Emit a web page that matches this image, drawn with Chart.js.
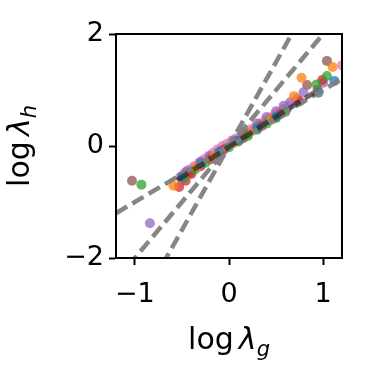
<!DOCTYPE html>
<html>
<head>
<meta charset="utf-8">
<script src="https://cdn.jsdelivr.net/npm/chart.js@4"></script>
<style>
  html, body { margin: 0; padding: 0; background: #fff; }
  #wrap { width: 366px; height: 384px; }
</style>
</head>
<body>
<div id="wrap"><canvas id="chart" width="366" height="384"></canvas></div>
<script>
/* ============================================================
   DATA
============================================================ */
const xTicks = [-1, 0, 1];
const yTicks = [-2, 0, 2];

// reference dashed lines: y = slope * x
const refSlopes = [1, 2, 3];
const fitLineX = [-0.55, 0.9];
const fitLineY = [-0.61, 0.95];

const seriesColors = ["#1f77b4", "#ff7f0e", "#2ca02c", "#d62728", "#9467bd", "#8c564b", "#e377c2"];

const blueX   = [-0.5, -0.3, -0.1, 0.1, 0.3, 0.5, 0.95, 1.12];
const blueY   = [-0.54, -0.32, -0.1, 0.1, 0.32, 0.52, 0.95, 1.16];
const orangeX = [-0.59, -0.35, -0.15, 0.05, 0.25, 0.45, 0.69, 0.77, 1.10];
const orangeY = [-0.71, -0.38, -0.16, 0.05, 0.27, 0.48, 0.89, 1.22, 1.41];
const greenX  = [-0.93, -0.48, -0.36, -0.25, -0.12, 0, 0.1, 0.2, 0.3, 0.4, 0.5, 0.6, 0.93, 1.04];
const greenY  = [-0.69, -0.57, -0.42, -0.3, -0.16, -0.02, 0.08, 0.18, 0.29, 0.4, 0.5, 0.61, 1.10, 1.25];
const redX    = [-0.53, -0.46, -0.4, -0.3, -0.2, -0.05, 0.15, 0.35, 0.55, 0.75, 0.94, 0.99];
const redY    = [-0.73, -0.62, -0.5, -0.36, -0.24, -0.06, 0.14, 0.36, 0.57, 0.8, 1.0, 1.18];
const purpleX = [-0.84, -0.45, -0.3, -0.2, 0.05, 0.3, 0.4, 0.5, 0.58, 0.65, 0.72, 0.79, 1.0];
const purpleY = [-1.38, -0.45, -0.28, -0.18, 0.1, 0.4, 0.52, 0.62, 0.72, 0.78, 0.84, 0.96, 1.13];
const brownX  = [-1.03, -0.42, -0.1, 0.2, 0.45, 0.83, 1.04];
const brownY  = [-0.62, -0.48, -0.12, 0.22, 0.47, 1.09, 1.52];
const pinkX   = [-0.52, -0.47, -0.42, -0.37, -0.32, -0.27, -0.22, -0.17, -0.12, -0.07, -0.02, 0.03, 0.08,
                 0.13, 0.18, 0.23, 0.28, 0.33, 0.38, 0.43, 0.48, 0.53, 0.58, 0.63, 1.2];
const pinkY   = [-0.56, -0.48, -0.42, -0.36, -0.3, -0.24, -0.18, -0.12, -0.06, 0.0, 0.04, 0.1, 0.14,
                 0.2, 0.24, 0.3, 0.34, 0.4, 0.45, 0.5, 0.55, 0.6, 0.66, 0.72, 1.44];

const seriesX = [blueX, orangeX, greenX, redX, purpleX, brownX, pinkX];
const seriesY = [blueY, orangeY, greenY, redY, purpleY, brownY, pinkY];

const X_MIN = -1.2, X_MAX = 1.2, Y_MIN = -2, Y_MAX = 2;
const FONT = "'DejaVu Sans', sans-serif";

/* ============================================================
   DATASETS
============================================================ */
function pts(xs, ys) { return xs.map((x, i) => ({ x: x, y: ys[i] })); }

function hexAlpha(hex, a) {
    const n = parseInt(hex.slice(1), 16);
    return `rgba(${(n >> 16) & 255}, ${(n >> 8) & 255}, ${n & 255}, ${a})`;
}

const datasets = [];

seriesX.forEach((xs, i) => {
    datasets.push({
        type: "scatter",
        data: pts(xs, seriesY[i]),
        backgroundColor: hexAlpha(seriesColors[i], 0.75),
        borderWidth: 0,
        pointRadius: 5,
        order: 2
    });
});

refSlopes.forEach(s => {
    datasets.push({
        type: "line",
        data: [{ x: X_MIN, y: s * X_MIN }, { x: X_MAX, y: s * X_MAX }],
        borderColor: "rgba(128,128,128,0.95)",
        borderWidth: 4.5,
        borderDash: [13, 6],
        pointRadius: 0,
        fill: false,
        order: 1
    });
});

datasets.push({
    type: "line",
    data: pts(fitLineX, fitLineY),
    borderColor: "rgba(30,30,30,0.65)",
    borderWidth: 5,
    borderDash: [13, 6],
    pointRadius: 0,
    fill: false,
    order: 0
});

/* ============================================================
   PLUGINS — frame and math axis titles
============================================================ */
const framePlugin = {
    id: "frame",
    afterDraw(chart) {
        const { ctx, chartArea: a } = chart;
        ctx.save();
        ctx.strokeStyle = "#000";
        ctx.lineWidth = 2;
        ctx.strokeRect(a.left, a.top, a.right - a.left, a.bottom - a.top);
        ctx.restore();
    }
};

function measureMath(ctx, sub, size) {
    ctx.font = `${size}px ${FONT}`;
    const w1 = ctx.measureText("log").width;
    const gap = size * 0.17;
    ctx.font = `oblique ${size}px ${FONT}`;
    const w2 = ctx.measureText("λ").width;
    ctx.font = `oblique ${size * 0.7}px ${FONT}`;
    const w3 = ctx.measureText(sub).width;
    return { w1, gap, w2, w3, total: w1 + gap + w2 + w3 };
}

function paintMathLabel(ctx, sub, size, cx, baseline) {
    const m = measureMath(ctx, sub, size);
    let x = cx - m.total / 2;
    ctx.textBaseline = "alphabetic";
    ctx.textAlign = "left";
    ctx.font = `${size}px ${FONT}`;
    ctx.fillText("log", x, baseline);
    x += m.w1 + m.gap;
    ctx.font = `oblique ${size}px ${FONT}`;
    ctx.fillText("λ", x, baseline);
    x += m.w2;
    ctx.font = `oblique ${size * 0.7}px ${FONT}`;
    ctx.fillText(sub, x, baseline + size * 0.22);
}

const titlePlugin = {
    id: "mathTitles",
    afterDraw(chart) {
        const { ctx, chartArea: a } = chart;
        ctx.save();
        ctx.fillStyle = "#000";
        paintMathLabel(ctx, "g", 30, (a.left + a.right) / 2, 349);
        ctx.translate(29, (a.top + a.bottom) / 2);
        ctx.rotate(-Math.PI / 2);
        paintMathLabel(ctx, "h", 30, 0, 0);
        ctx.restore();
    }
};

/* ============================================================
   CHART
============================================================ */
function axis(min, max, ticks, pad, fit) {
    return {
        type: "linear",
        min: min,
        max: max,
        afterBuildTicks: s => { s.ticks = ticks.map(v => ({ value: v })); },
        afterFit: fit,
        grid: {
            drawOnChartArea: false,
            drawTicks: true,
            tickLength: 7,
            tickWidth: 2,
            tickColor: "#000"
        },
        border: { display: true, color: "#000", width: 2 },
        ticks: {
            color: "#000",
            padding: pad,
            font: { family: FONT, size: 27 },
            callback: v => (v < 0 ? "\u2212" + Math.abs(v) : String(v))
        }
    };
}

new Chart(document.getElementById("chart"), {
    data: { datasets: datasets },
    plugins: [framePlugin, titlePlugin],
    options: {
        responsive: false,
        animation: false,
        layout: { padding: { top: 34, right: 24, left: 0, bottom: 0 } },
        plugins: { legend: { display: false }, tooltip: { enabled: false } },
        scales: {
            x: axis(X_MIN, X_MAX, xTicks, 14, s => { s.height = 126; }),
            y: axis(Y_MIN, Y_MAX, yTicks, 5, s => { s.width = 116; })
        }
    }
});
</script>
</body>
</html>
